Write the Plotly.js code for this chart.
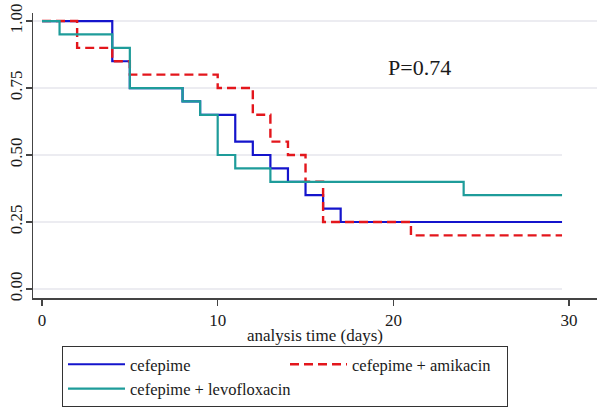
<!DOCTYPE html>
<html>
<head>
<meta charset="utf-8">
<script src="https://cdn.plot.ly/plotly-3.0.1.min.js"></script>
<style>html,body{margin:0;padding:0;background:#fff;}#chart{width:600px;height:408px;}</style>
</head>
<body>
<div id="chart"></div>
<script>
// Kaplan-Meier step data (time in days, survival proportion)
const cefepimeTime = [0, 4, 5, 8, 9, 11, 12, 13, 14, 15, 16, 17, 29.6];
const cefepimeSurv = [1.00, 0.85, 0.75, 0.70, 0.65, 0.55, 0.50, 0.45, 0.40, 0.35, 0.30, 0.25, 0.25];

const amikacinTime = [0, 2, 4, 5, 10, 12, 13, 14, 15, 16, 21, 29.6];
const amikacinSurv = [1.00, 0.90, 0.85, 0.80, 0.75, 0.65, 0.55, 0.50, 0.40, 0.25, 0.20, 0.20];

const levoTime = [0, 1, 4, 5, 8, 9, 10, 11, 13, 24, 29.6];
const levoSurv = [1.00, 0.95, 0.90, 0.75, 0.70, 0.65, 0.50, 0.45, 0.40, 0.35, 0.35];

const seriesNames = ["cefepime", "cefepime + amikacin", "cefepime + levofloxacin"];
const xTickVals = [0, 10, 20, 30];
const yTickVals = [0, 0.25, 0.5, 0.75, 1];
const pValueText = "P=0.74";

const serif = "Liberation Serif, Times New Roman, serif";

const traces = [
  {x: cefepimeTime, y: cefepimeSurv, name: seriesNames[0], mode: "lines",
   line: {shape: "hv", color: "#1414cc", width: 2.2}},
  {x: amikacinTime, y: amikacinSurv, name: seriesNames[1], mode: "lines",
   line: {shape: "hv", color: "#e3161c", width: 2.4, dash: "9px,5px"}},
  {x: levoTime, y: levoSurv, name: seriesNames[2], mode: "lines",
   line: {shape: "hv", color: "#1e9c9a", width: 2.2}}
];

// horizontal grid lines (lower ones stop at the end of the curves, as in the picture)
const gridShapes = yTickVals.map(v => ({
  type: "line", xref: "x", yref: "y", layer: "below",
  x0: -0.51, x1: v >= 0.75 ? 31.6 : 29.6, y0: v, y1: v,
  line: {color: "#e6e6ec", width: 1.5}
}));

const layout = {
  width: 600, height: 408,
  margin: {l: 33, r: 3, t: 13, b: 110},
  paper_bgcolor: "#ffffff", plot_bgcolor: "#ffffff",
  font: {family: serif, size: 17, color: "#1a1a1a"},
  showlegend: true,
  xaxis: {
    range: [-0.512, 31.59], tickvals: xTickVals, ticktext: xTickVals.map(String),
    showgrid: false, zeroline: false, showline: true, linecolor: "#444", linewidth: 1.5,
    ticks: "outside", ticklen: 6, tickcolor: "#444", tickwidth: 1.3,
    tickfont: {family: serif, size: 17, color: "#1a1a1a"},
    title: {text: "analysis time (days)", font: {family: serif, size: 17, color: "#1a1a1a"}, standoff: 0}
  },
  yaxis: {
    range: [-0.0336, 1.03], tickvals: yTickVals, ticktext: yTickVals.map(v => v.toFixed(2)),
    tickangle: -90, showgrid: false, zeroline: false, showline: true, linecolor: "#444", linewidth: 1.5,
    ticks: "outside", ticklen: 6, tickcolor: "#444", tickwidth: 1.3, ticklabelstandoff: -3,
    tickfont: {family: serif, size: 17, color: "#1a1a1a"}
  },
  legend: {
    orientation: "h", xref: "container", yref: "container",
    x: 62 / 600, xanchor: "left", y: 1 - 346 / 408, yanchor: "top",
    entrywidth: 150, entrywidthmode: "pixels",
    bordercolor: "#333", borderwidth: 1, bgcolor: "#ffffff",
    font: {family: serif, size: 16.5, color: "#1a1a1a"},
    tracegroupgap: 0, itemwidth: 57
  },
  shapes: gridShapes,
  annotations: [{
    x: 21.46, y: 0.828, xref: "x", yref: "y", text: pValueText, showarrow: false,
    font: {family: serif, size: 22, color: "#1a1a1a"}
  }]
};

Plotly.newPlot("chart", traces, layout, {displayModeBar: false, staticPlot: true});
</script>
</body>
</html>
